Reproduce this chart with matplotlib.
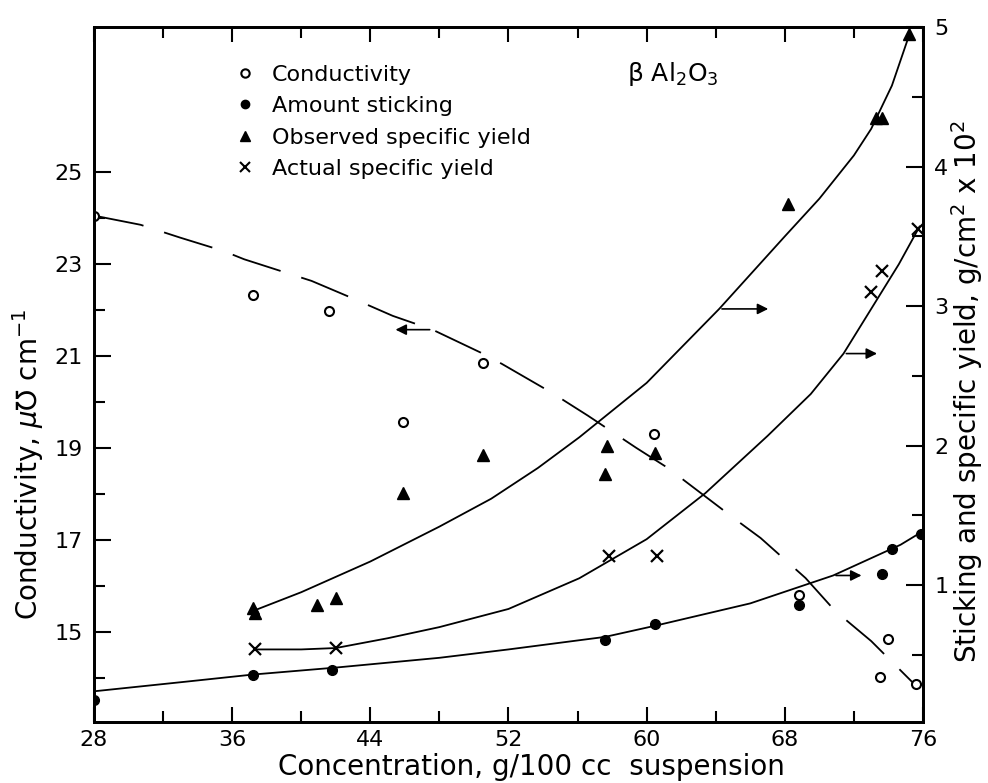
import matplotlib
matplotlib.use('Agg')
import matplotlib.pyplot as plt
from matplotlib.ticker import FixedLocator
from matplotlib.lines import Line2D

plt.rcParams['font.family'] = ['DejaVu Sans']

# conductivity, left axis (uS/cm)
cond_x = [28.0, 37.2, 41.6, 45.9, 50.5, 60.4, 68.8, 73.5, 74.0, 75.6]
cond_y = [24.05, 22.33, 21.98, 19.57, 20.85, 19.3, 15.8, 14.02, 14.85, 13.87]
cond_fit_x = [28, 30.7, 33, 35.5, 36.7, 40.6, 42.8, 45.3, 47.6, 50.4, 51.6, 54.5,
              56.6, 59.4, 61.2, 65.3, 66.6, 69.2, 70.9, 73.0, 75.4]
cond_fit_y = [24.05, 23.85, 23.57, 23.28, 23.1, 22.63, 22.28, 21.87, 21.57, 21.07, 20.83, 20.2,
              19.7, 19.0, 18.57, 17.4, 17.04, 16.17, 15.46, 14.8, 13.9]

# right axis (g/cm2 x 10^2)
stick_x = [28.0, 37.2, 41.8, 57.6, 60.5, 68.8, 73.6, 74.2, 75.9]
stick_y = [0.18, 0.36, 0.39, 0.61, 0.72, 0.86, 1.08, 1.26, 1.37]
stick_fit_x = [28, 33.4, 37.2, 42, 48, 52, 57.6, 60.5, 66, 70.8, 74.7, 75.9]
stick_fit_y = [0.24, 0.31, 0.36, 0.41, 0.48, 0.54, 0.63, 0.71, 0.87, 1.07, 1.29, 1.38]

obs_x = [37.2, 37.3, 40.9, 42.0, 45.9, 50.5, 57.6, 57.7, 60.5, 68.2, 73.3, 73.6, 75.2]
obs_y = [0.84, 0.80, 0.86, 0.91, 1.66, 1.93, 1.80, 2.00, 1.95, 3.73, 4.35, 4.35, 4.95]
obs_fit_x = [37.3, 40, 44, 48, 51, 53.7, 56.1, 60, 64.2, 68, 70, 72, 73, 74.2, 75.25]
obs_fit_y = [0.82, 0.95, 1.17, 1.42, 1.62, 1.84, 2.06, 2.45, 2.98, 3.5, 3.77, 4.08, 4.27, 4.58, 4.96]

act_x = [37.3, 42.0, 57.8, 60.6, 73.0, 73.6, 75.7]
act_y = [0.54, 0.55, 1.21, 1.21, 3.10, 3.25, 3.55]
act_fit_x = [37.3, 40, 42, 45, 48, 52, 56.1, 60, 63.4, 67, 69.5, 71.4, 73.3, 74.6, 75.8]
act_fit_y = [0.54, 0.54, 0.55, 0.62, 0.70, 0.83, 1.05, 1.33, 1.66, 2.07, 2.37, 2.66, 3.04, 3.3, 3.57]

xticks = [28, 36, 44, 52, 60, 68, 76]

# arrows (tail x, head x, y) pointing to the axis each curve belongs to
left_arrows = [(47.6, 45.3, 21.57)]
right_arrows = [(64.2, 67.2, 2.98), (71.4, 73.5, 2.66), (70.8, 72.6, 1.07)]

fig = plt.figure(figsize=(9.88, 7.83), dpi=100)
ax1 = fig.add_axes([0.0951, 0.0779, 0.8391, 0.8876])
ax2 = ax1.twinx()

lw = 1.3
ax1.plot(cond_fit_x, cond_fit_y, color='k', lw=lw, dashes=(28, 12))
ax1.plot(cond_x, cond_y, 'o', ms=6.5, mfc='white', mec='k', mew=1.5, ls='None')

ax2.plot(stick_fit_x, stick_fit_y, color='k', lw=lw)
ax2.plot(obs_fit_x, obs_fit_y, color='k', lw=lw)
ax2.plot(act_fit_x, act_fit_y, color='k', lw=lw)
ax2.plot(stick_x, stick_y, 'o', ms=7, color='k', ls='None')
ax2.plot(obs_x, obs_y, '^', ms=9, color='k', ls='None')
ax2.plot(act_x, act_y, 'x', ms=8, mew=1.6, color='k', ls='None')

for x0, x1, y in left_arrows:
    ax1.annotate('', xy=(x1, y), xytext=(x0, y),
                 arrowprops=dict(arrowstyle='-|>', color='k', lw=1.2, mutation_scale=16))
for x0, x1, y in right_arrows:
    ax2.annotate('', xy=(x1, y), xytext=(x0, y),
                 arrowprops=dict(arrowstyle='-|>', color='k', lw=1.2, mutation_scale=16))

ax1.set_xlim(28, 76)
ax1.set_ylim(13.04, 28.15)
ax2.set_ylim(0.02, 5.0)

ax1.xaxis.set_major_locator(FixedLocator(xticks))
ax1.xaxis.set_minor_locator(FixedLocator([32, 40, 48, 56, 64, 72]))
ax1.yaxis.set_major_locator(FixedLocator([15, 17, 19, 21, 23, 25]))
ax1.yaxis.set_minor_locator(FixedLocator([14, 16, 18, 20, 22, 24]))
ax2.yaxis.set_major_locator(FixedLocator([1, 2, 3, 4, 5]))
ax2.yaxis.set_minor_locator(FixedLocator([0.5, 1.5, 2.5, 3.5, 4.5]))

ax1.tick_params(axis='x', which='both', direction='in', top=True, labelsize=16, pad=6, width=1.5)
ax1.tick_params(axis='x', which='major', length=11)
ax1.tick_params(axis='x', which='minor', length=8)
ax1.tick_params(axis='y', which='both', direction='in', labelsize=16, pad=8, width=1.5)
ax1.tick_params(axis='y', which='major', length=12)
ax1.tick_params(axis='y', which='minor', length=8)
ax2.tick_params(axis='y', which='both', direction='in', labelsize=16, pad=8, width=1.5)
ax2.tick_params(axis='y', which='major', length=12)
ax2.tick_params(axis='y', which='minor', length=8)

for ax in (ax1, ax2):
    for sp in ax.spines.values():
        sp.set_linewidth(2)

ax1.set_xlabel('Concentration, g/100 cc  suspension', fontsize=20)
ax1.xaxis.set_label_coords(0.528, -0.045)
ax1.set_ylabel(r'Conductivity, $\mu$℧ cm$^{-1}$', fontsize=20)
ax1.yaxis.set_label_coords(-0.058, 0.37)
ax2.set_ylabel(r'Sticking and specific yield, g/cm$^2$ x 10$^2$', fontsize=20)
ax2.yaxis.set_label_coords(1.032, 0.475)

ax1.text(0.643, 0.932, r'β Al$_2$O$_3$', transform=ax1.transAxes, fontsize=18, va='center')

handles = [
    Line2D([], [], marker='o', ms=6, mfc='white', mec='k', mew=1.5, ls='None'),
    Line2D([], [], marker='o', ms=6, color='k', ls='None'),
    Line2D([], [], marker='^', ms=7, color='k', ls='None'),
    Line2D([], [], marker='x', ms=7, mew=1.5, color='k', ls='None'),
]
labels = ['Conductivity', 'Amount sticking', 'Observed specific yield', 'Actual specific yield']
ax1.legend(handles, labels, loc='upper left', bbox_to_anchor=(0.159, 0.962), frameon=False,
           fontsize=16, handlelength=0.7, handletextpad=0.86, labelspacing=0.52, borderpad=0)

fig.savefig('out.png', dpi=100)
